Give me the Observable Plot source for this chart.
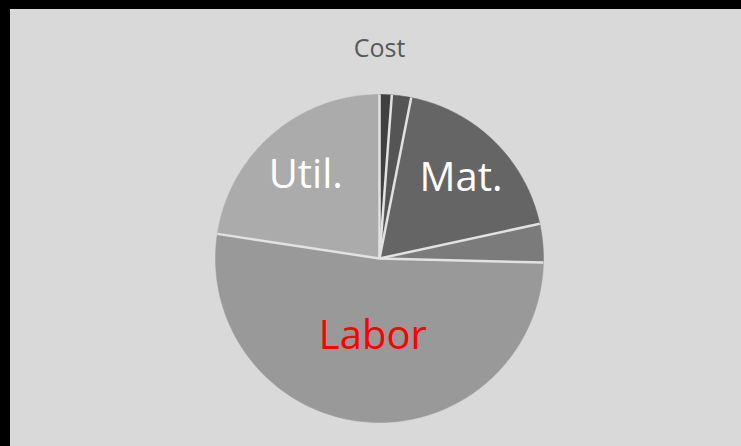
<!DOCTYPE html>
<html>
<head>
<meta charset="utf-8">
<script src="https://cdn.jsdelivr.net/npm/d3@7"></script>
<script src="https://cdn.jsdelivr.net/npm/@observablehq/plot@0.6"></script>
<style>
  html, body { margin: 0; padding: 0; background: #000; }
  #frame { position: absolute; left: 10px; top: 9px; width: 731px; height: 437px; background: #d9d9d9; overflow: hidden; }
</style>
</head>
<body>
<div id="frame"></div>
<script>
// Data (clockwise from 12 o'clock)
const categories = ["A", "B", "Mat.", "D", "Labor", "Util."];
const values = [1.2, 1.9, 18.5, 3.8, 52.0, 22.6];
const labels = ["", "", "Mat.", "", "Labor", "Util."];
const colors = ["#404040", "#555555", "#656565", "#7b7b7b", "#999999", "#ababab"];
const labelColors = ["#ffffff", "#ffffff", "#ffffff", "#ffffff", "#ff0000", "#ffffff"];
const labelRadius = [0.7, 0.7, 0.71, 0.7, 0.46, 0.69];
const title = "Cost";

const total = d3.sum(values);
let acc = 0;
const slices = categories.map((c, i) => {
  const a0 = acc / total * 2 * Math.PI;
  acc += values[i];
  const a1 = acc / total * 2 * Math.PI;
  return {category: c, value: values[i], a0, a1, color: colors[i], label: labels[i], labelColor: labelColors[i], lr: labelRadius[i]};
});

function sliceGeometry(s) {
  const pts = [[0, 0]];
  const n = Math.max(2, Math.ceil((s.a1 - s.a0) / (Math.PI / 180)));
  for (let k = 0; k <= n; k++) {
    const a = s.a0 + (s.a1 - s.a0) * k / n;
    pts.push([Math.sin(a), -Math.cos(a)]);
  }
  pts.push([0, 0]);
  return {type: "Feature", properties: s, geometry: {type: "Polygon", coordinates: [pts]}};
}

const features = slices.map(sliceGeometry);
const separators = slices.map(s => ({
  type: "Feature", properties: s,
  geometry: {type: "LineString", coordinates: [[0, 0], [Math.sin(s.a0), -Math.cos(s.a0)]]}
}));
const labelData = slices.filter(s => s.label).map(s => {
  const m = (s.a0 + s.a1) / 2;
  return {...s, x: Math.sin(m) * s.lr, y: -Math.cos(m) * s.lr};
});

const chart = Plot.plot({
  width: 731,
  height: 437,
  marginLeft: 205,
  marginTop: 85,
  marginRight: 198,
  marginBottom: 24,
  style: {background: "transparent", fontFamily: "'Open Sans', sans-serif"},
  projection: {
    type: "identity",
    domain: {type: "MultiPoint", coordinates: [[-1, -1], [1, 1]]}
  },
  marks: [
    Plot.geo(features, {
      fill: d => d.properties.color,
      stroke: d => d.properties.color,
      strokeWidth: 0.5
    }),
    Plot.geo(separators, {
      stroke: "#e2e2e2",
      strokeWidth: 2.5,
      strokeLinecap: "butt"
    }),
    Plot.text(labelData, {
      x: "x", y: "y", text: "label",
      fill: "labelColor",
      dy: 3,
      fontSize: 40,
      fontFamily: "'Open Sans', sans-serif"
    }),
    Plot.text([title], {
      text: d => d,
      frameAnchor: "top",
      dy: -55,
      fontSize: 25,
      fill: "#595959",
      fontFamily: "'Open Sans', sans-serif"
    })
  ]
});
document.getElementById("frame").appendChild(chart);
</script>
</body>
</html>
